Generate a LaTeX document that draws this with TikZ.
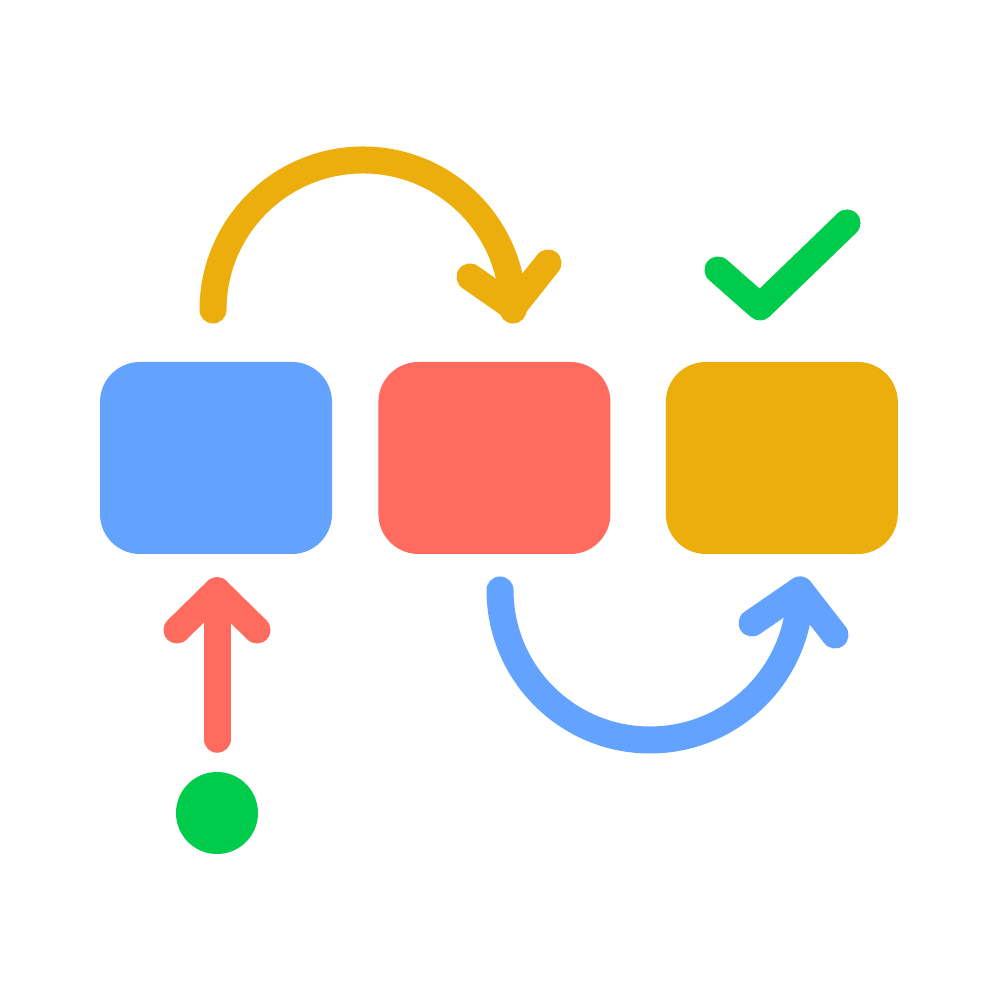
\documentclass[tikz,border=0pt]{standalone}
\usetikzlibrary{positioning}
\definecolor{stepblue}{HTML}{63A3FF}
\definecolor{stepred}{HTML}{FF6B5E}
\definecolor{stepyellow}{HTML}{EBAE0C}
\definecolor{stepgreen}{HTML}{00CC4C}
\begin{document}
\begin{tikzpicture}[node distance=0.45cm,
    stepbox/.style={rectangle, rounded corners=0.4cm, minimum width=2.32cm, minimum height=1.92cm, inner sep=0pt},
    flow/.style={line width=0.27cm, line cap=round, line join=round}]
    \useasboundingbox (0,0) rectangle (10,10);

    % Boxes
    \node (blue) [stepbox, fill=stepblue] at (2.16,5.42) {};
    \node (red) [stepbox, fill=stepred, right=of blue] {};
    \node (yellow) [stepbox, fill=stepyellow, right=0.54cm of red] {};

    % Start dot
    \node (dot) [circle, fill=stepgreen, minimum size=0.82cm, inner sep=0pt] at (2.17,1.87) {};

    % Arrow from dot up to the first box
    \coordinate (rt) at ([yshift=-0.36cm]blue.south -| dot);
    \draw[flow, stepred] ([yshift=0.32cm]dot.north) -- (rt);
    \draw[flow, stepred] (1.77,3.70) -- (rt) -- (2.57,3.70);

    % Arc from first to second box
    \coordinate (ys) at (2.13,6.90);
    \coordinate (yt) at (5.13,6.93);
    \draw[flow, stepyellow] (ys) arc[start angle=180, end angle=0, radius=1.5];
    \draw[flow, stepyellow] (4.70,7.23) -- (yt) -- (5.48,7.37);

    % Arc from second to third box
    \coordinate (bs) at (5.00,4.10);
    \coordinate (bt) at (8.00,4.10);
    \draw[flow, stepblue] (bs) arc[start angle=180, end angle=360, radius=1.5];
    \draw[flow, stepblue] (7.52,3.77) -- (bt) -- (8.35,3.65);

    % Check mark
    \draw[flow, stepgreen] (7.18,7.30) -- (7.60,6.93) -- (8.47,7.77);

\end{tikzpicture}
\end{document}
